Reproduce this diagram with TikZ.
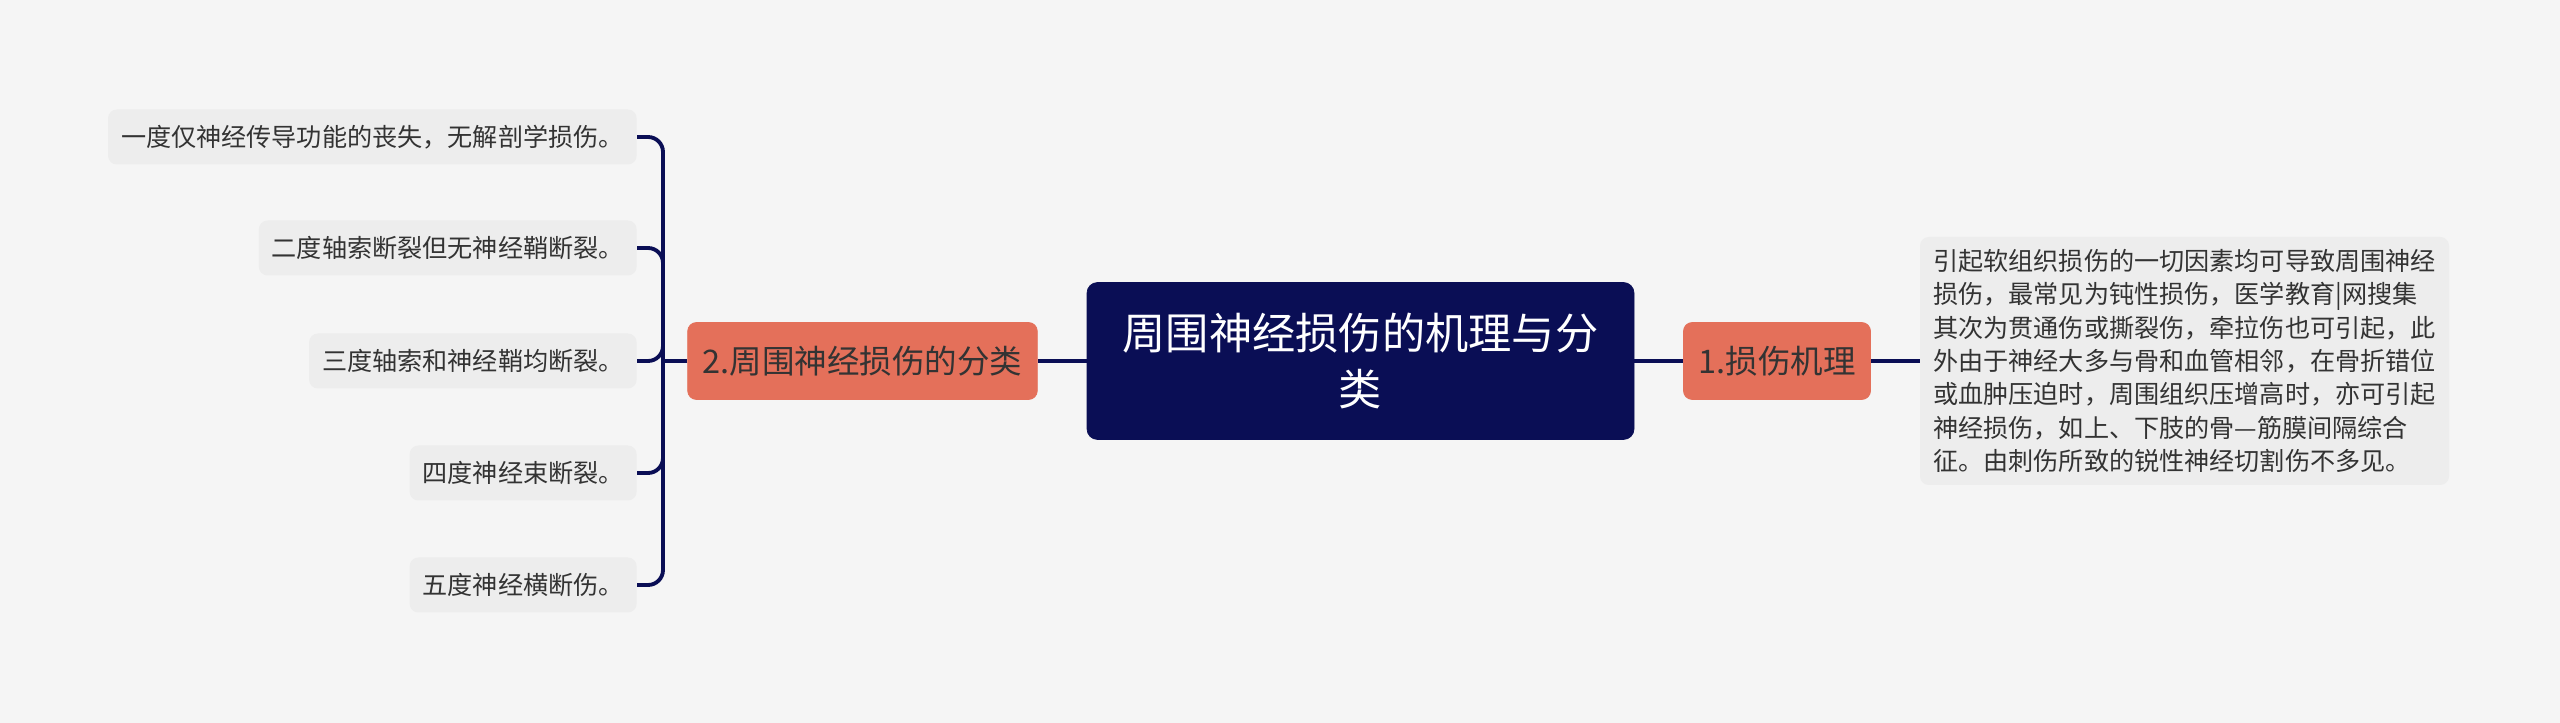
\documentclass[tikz,border=0pt]{standalone}
\usepackage{fontspec}
\setmainfont{Noto Sans CJK SC}
\usepackage{tikz}
\usetikzlibrary{positioning}
\definecolor{navy}{HTML}{0A0E55}
\definecolor{salmon}{HTML}{E4705A}
\definecolor{paper}{HTML}{F5F5F5}
\definecolor{leafgray}{HTML}{EDEDED}
\definecolor{ink}{HTML}{333333}
\newcommand{\Link}[2]{\draw [link] (#1) -- (#2);}
\newcommand{\Leaf}[3]{\node [leaf] at (12.74cm,#2cm) (#1) {#3};}

\begin{document}
\begin{tikzpicture}
[link/.style={navy,line width=2.2pt},
 root/.style={fill=navy,draw=navy,rounded corners=6pt,text=white,
   minimum width=10.94cm,minimum height=3.14cm,align=center,
   font=\fontsize{24.6pt}{31.5pt}\selectfont},
 topic/.style={fill=salmon,draw=salmon,rounded corners=5pt,text=ink,
   minimum height=1.54cm,inner xsep=0.3cm,
   font=\fontsize{18.5pt}{22pt}\selectfont},
 leaf/.style={fill=leafgray,rounded corners=5pt,text=ink,anchor=east,
   minimum height=1.1cm,inner xsep=0.26cm,
   font=\fontsize{14.3pt}{18pt}\selectfont},
 note/.style={fill=leafgray,rounded corners=5pt,text=ink,align=left,
   minimum width=10.58cm,minimum height=4.96cm,
   font=\fontsize{14.3pt}{19pt}\selectfont},]

\fill [paper] (0,0) rectangle (51.2,14.46);
\useasboundingbox (0,0) rectangle (51.2,14.46);

\node [root] at (27.21cm,7.24cm) (R) {周围神经损伤的机理与分\\类};
\node [topic] at (17.25cm,7.24cm) (T2) {2.周围神经损伤的分类};
\node [topic] at (35.54cm,7.24cm) (T1) {1.损伤机理};
\node [note] at (43.69cm,7.24cm) (N) {引起软组织损伤的一切因素均可导致周围神经\\
损伤，最常见为钝性损伤，医学教育|网搜集\\
其次为贯通伤或撕裂伤，牵拉伤也可引起，此\\
外由于神经大多与骨和血管相邻，在骨折错位\\
或血肿压迫时，周围组织压增高时，亦可引起\\
神经损伤，如上、下肢的骨—筋膜间隔综合\\
征。由刺伤所致的锐性神经切割伤不多见。};

\Leaf{L1}{11.72}{一度仅神经传导功能的丧失，无解剖学损伤。}
\Leaf{L2}{9.5}{二度轴索断裂但无神经鞘断裂。}
\Leaf{L3}{7.24}{三度轴索和神经鞘均断裂。}
\Leaf{L4}{5.0}{四度神经束断裂。}
\Leaf{L5}{2.76}{五度神经横断伤。}

\coordinate (F) at (13.26cm,7.24cm);

\Link{R.west}{T2.east}
\Link{R.east}{T1.west}
\Link{T1.east}{N.west}
\Link{T2.west}{F}
\foreach \l in {L1,L2,L3,L4,L5}
  \draw [link,rounded corners=0.3cm] (F) |- (\l.east);
\end{tikzpicture}
\end{document}
